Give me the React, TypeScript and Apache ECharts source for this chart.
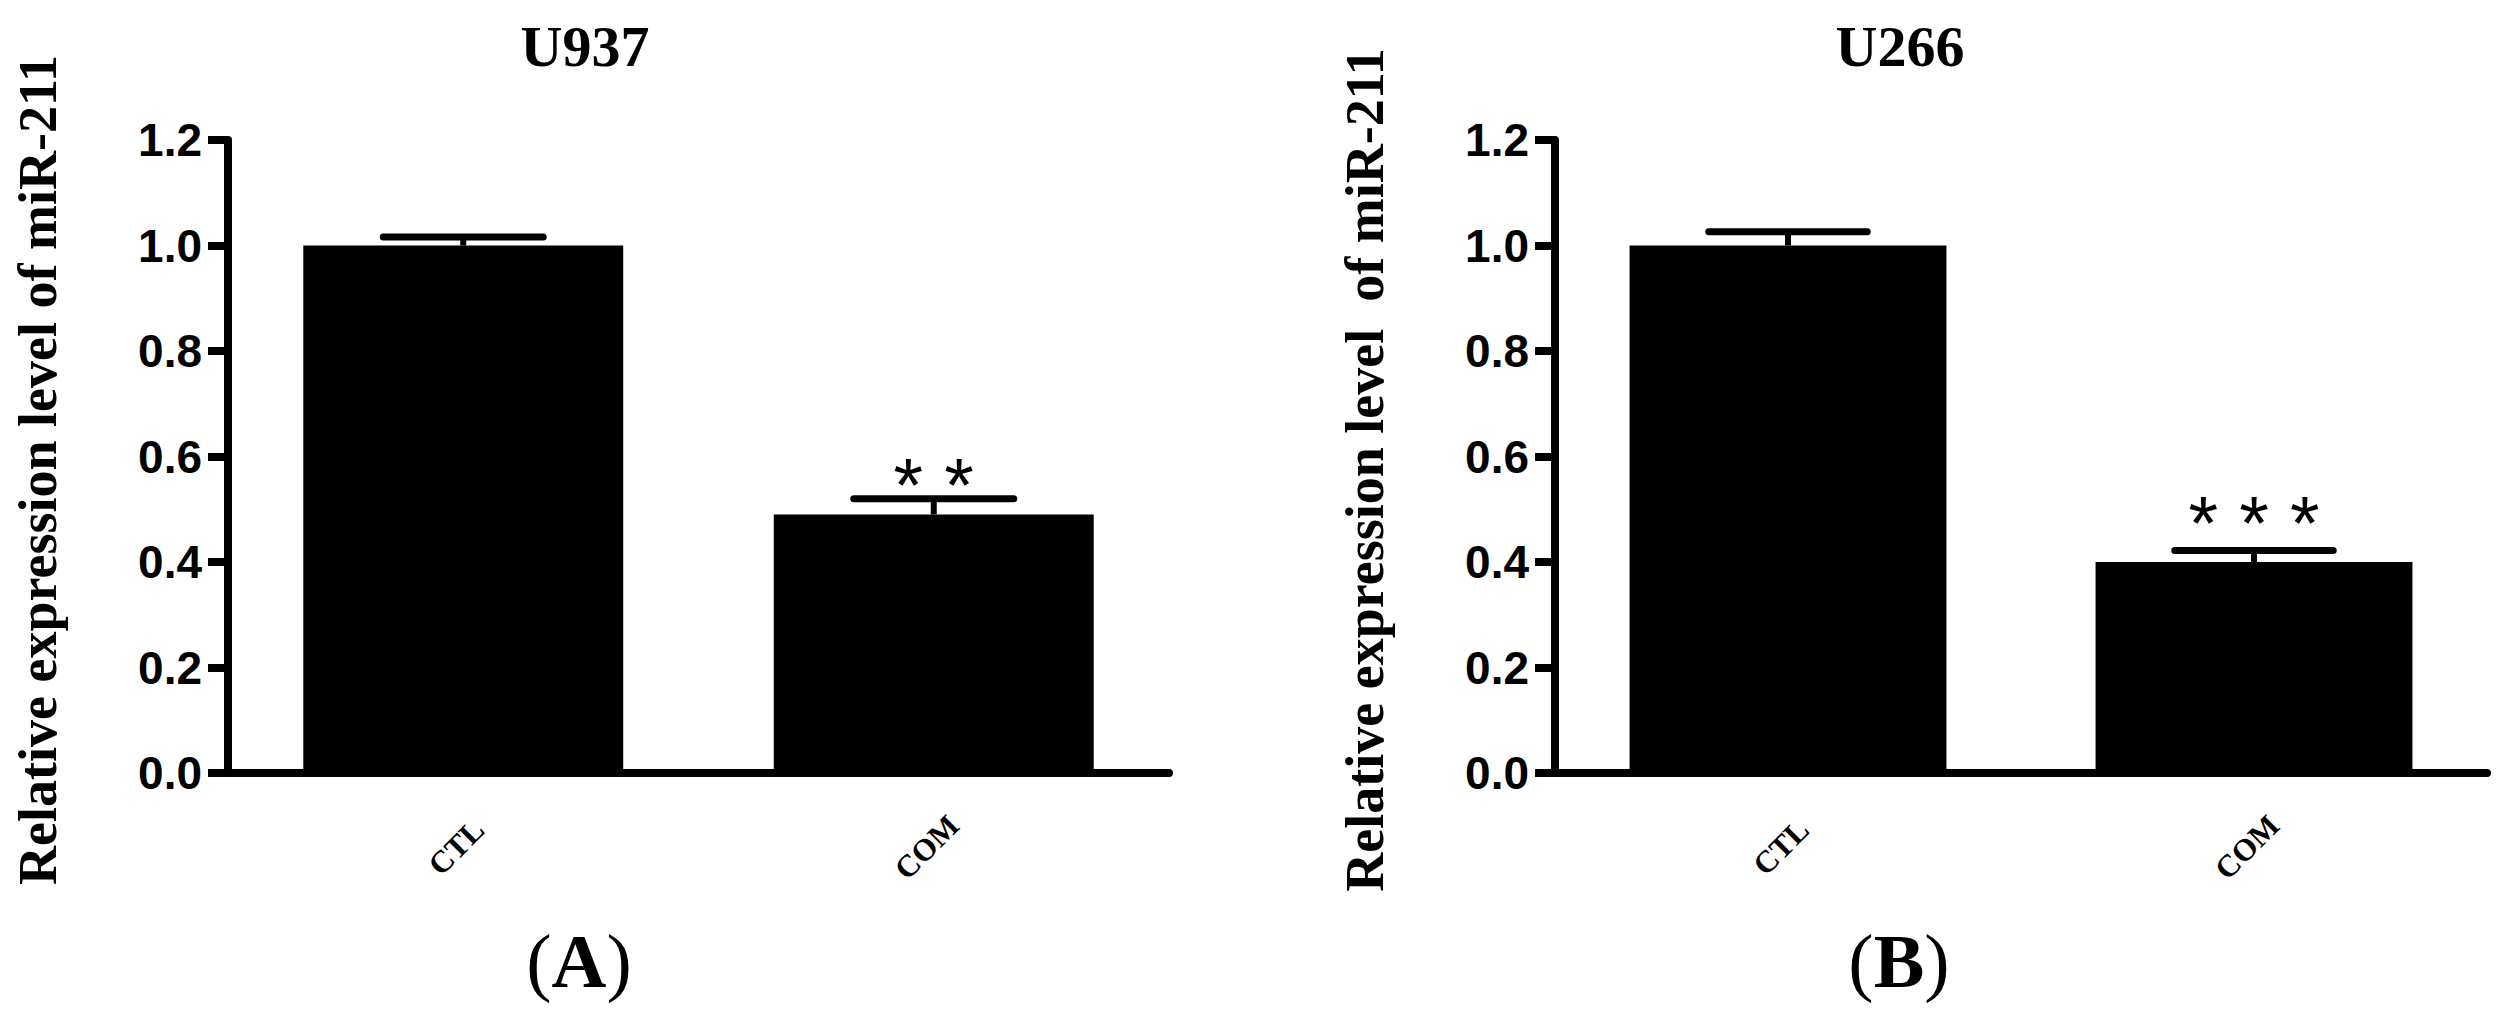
import React, { useEffect, useRef } from "react";
import * as echarts from "echarts";

const categories = ["CTL", "COM"];
const u937Means = [1.0, 0.49];
const u937Errors = [0.016, 0.03];
const u937Stars = ["", "* *"];
const u266Means = [1.0, 0.4];
const u266Errors = [0.026, 0.022];
const u266Stars = ["", "* * *"];
const yTicks = { min: 0, max: 1.2, interval: 0.2 };
const panelTitles = ["U937", "U266"];
const panelLetters = ["A", "B"];
const yNames = ["Relative expression level of miR-211", "Relative expression level  of miR-211"];

const SERIF = "'Liberation Serif', 'Times New Roman', serif";
const SANS = "'Liberation Sans', Arial, sans-serif";

function errSeries(idx: number, means: number[], errs: number[], stars: string[], starShift: number) {
  return {
    type: "custom",
    xAxisIndex: idx,
    yAxisIndex: idx,
    z: 5,
    data: means.map((m, i) => [i, m, errs[i]]),
    renderItem: (params: any, api: any) => {
      const x = api.value(0);
      const m = api.value(1);
      const e = api.value(2);
      const top = api.coord([x, m + e]);
      const base = api.coord([x, m]);
      const bw = api.size([1, 0])[0] * 0.34;
      const children: any[] = [
        { type: "line", shape: { x1: base[0], y1: base[1], x2: top[0], y2: top[1] }, style: { stroke: "#000", lineWidth: 6 } },
        { type: "line", shape: { x1: top[0] - bw / 2, y1: top[1], x2: top[0] + bw / 2, y2: top[1] }, style: { stroke: "#000", lineWidth: 7, lineCap: "round" } },
      ];
      const s = stars[params.dataIndex];
      if (s) {
        children.push({
          type: "text",
          x: top[0],
          y: top[1] + starShift,
          style: { text: s, fill: "#000", font: `normal 76px ${SANS}`, textAlign: "center", textVerticalAlign: "bottom" },
        });
      }
      return { type: "group", children };
    },
  };
}

function xAxisCfg(idx: number) {
  return {
    type: "category",
    gridIndex: idx,
    data: categories,
    axisLine: { lineStyle: { color: "#000", width: 8 } },
    axisTick: { alignWithLabel: true, length: 24, lineStyle: { color: "#000", width: 7 } },
    axisLabel: {
      rotate: 45,
      align: "center",
      verticalAlign: "middle",
      margin: 67,
      padding: [0, 20, 0, 0],
      color: "#000",
      fontFamily: SERIF,
      fontWeight: "bold",
      fontSize: 31,
    },
  };
}

function yAxisCfg(idx: number) {
  return {
    type: "value",
    gridIndex: idx,
    min: yTicks.min,
    max: yTicks.max,
    interval: yTicks.interval,
    splitLine: { show: false },
    axisLine: { show: true, lineStyle: { color: "#000", width: 8 } },
    axisTick: { show: true, length: 20, lineStyle: { color: "#000", width: 8 } },
    axisLabel: {
      margin: 26,
      color: "#000",
      fontFamily: SANS,
      fontWeight: "bold",
      fontSize: 46,
      formatter: (v: number) => v.toFixed(1),
    },
  };
}

export default function App() {
  const ref = useRef<HTMLDivElement>(null);
  useEffect(() => {
    if (!ref.current) return;
    const chart = echarts.init(ref.current, undefined, { renderer: "svg" });
    const letterGraphics = [0, 1].map((i) => ({
      type: "text",
      x: i === 0 ? 579 : 1899,
      y: 961,
      style: {
        text: `{p|(}{b|${panelLetters[i]}}{p|)}`,
        textAlign: "center",
        textVerticalAlign: "middle",
        rich: {
          p: { fontFamily: SERIF, fontSize: 76, fontWeight: "normal", fill: "#000" },
          b: { fontFamily: SERIF, fontSize: 76, fontWeight: "bold", fill: "#000" },
        },
      },
    }));
    const nameGraphics = [0, 1].map((i) => ({
      type: "text",
      x: i === 0 ? 38 : 1365,
      y: 470,
      rotation: Math.PI / 2,
      style: {
        text: yNames[i],
        fill: "#000",
        font: `bold 54px ${SERIF}`,
        textAlign: "center",
        textVerticalAlign: "middle",
      },
    }));
    chart.setOption({
      animation: false,
      backgroundColor: "#fff",
      title: [
        { text: panelTitles[0], left: 580, top: 12, textAlign: "center", textStyle: { fontFamily: SERIF, fontWeight: "bold", fontSize: 58, color: "#000" } },
        { text: panelTitles[1], left: 1895, top: 12, textAlign: "center", textStyle: { fontFamily: SERIF, fontWeight: "bold", fontSize: 58, color: "#000" } },
      ],
      graphic: [...letterGraphics, ...nameGraphics],
      grid: [
        { left: 228, right: 2500 - 1169, top: 140, bottom: 1033 - 773 },
        { left: 1555, right: 2500 - 2487, top: 140, bottom: 1033 - 773 },
      ],
      xAxis: [xAxisCfg(0), xAxisCfg(1)],
      yAxis: [yAxisCfg(0), yAxisCfg(1)],
      series: [
        { type: "bar", xAxisIndex: 0, yAxisIndex: 0, data: u937Means, barWidth: "68%", itemStyle: { color: "#000" } },
        errSeries(0, u937Means, u937Errors, u937Stars, 24),
        { type: "bar", xAxisIndex: 1, yAxisIndex: 1, data: u266Means, barWidth: "68%", itemStyle: { color: "#000" } },
        errSeries(1, u266Means, u266Errors, u266Stars, 10),
      ],
    });
    return () => chart.dispose();
  }, []);
  return <div ref={ref} style={{ position: "fixed", left: 0, top: 0, width: 2500, height: 1033 }} />;
}
